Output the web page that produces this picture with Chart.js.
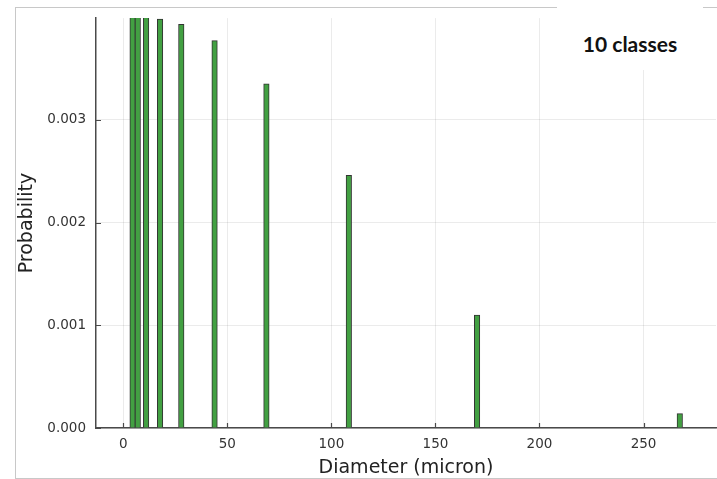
<!DOCTYPE html>
<html>
<head>
<meta charset="utf-8">
<script src="https://cdn.jsdelivr.net/npm/chart.js@4"></script>
<style>
  html, body { margin: 0; padding: 0; background: #ffffff; }
  #wrap { position: relative; width: 717px; height: 479px; overflow: hidden; background: #ffffff; }
  #frame { position: absolute; left: 15px; top: 7px; width: 800px; height: 470px; border: 1px solid #c8c8c8; }
  #chart { position: absolute; left: 0; top: 0; }
  #tag {
    position: absolute; left: 557px; top: 0; width: 146px; height: 70px; background: #ffffff;
    font-family: Lato, "Open Sans", sans-serif; font-weight: bold; font-size: 21px; color: #111;
    text-align: center; line-height: 22px; padding-top: 33px; box-sizing: border-box;
  }
</style>
</head>
<body>
<div id="wrap">
  <div id="frame"></div>
  <canvas id="chart" width="717" height="479"></canvas>
  <div id="tag">10 classes</div>
</div>
<script>
// Class centres (micron) and probability density of each class
const diameters = [4.5, 7.0, 11.0, 17.7, 27.9, 43.9, 68.8, 108.4, 170.0, 267.4];
const probabilities = [0.00402, 0.00403, 0.00402, 0.00398, 0.00393, 0.00377, 0.00335, 0.00246, 0.00110, 0.00014];

// Axis ticks
const xTicks = [0, 50, 100, 150, 200, 250];
const yTicks = [0, 0.001, 0.002, 0.003];

const axisColor = '#4a4a4a';
const tickFont = { family: 'DejaVu Sans', size: 13.5 };

// Short tick marks pointing into the plot area
const innerTicks = {
  id: 'innerTicks',
  afterDraw(chart) {
    const { ctx, chartArea, scales } = chart;
    ctx.save();
    ctx.strokeStyle = axisColor;
    ctx.lineWidth = 1.2;
    ctx.beginPath();
    xTicks.forEach(v => {
      const px = Math.round(scales.x.getPixelForValue(v)) + 0.5;
      ctx.moveTo(px, chartArea.bottom);
      ctx.lineTo(px, chartArea.bottom - 5);
    });
    yTicks.forEach(v => {
      const py = Math.round(scales.y.getPixelForValue(v)) + 0.5;
      ctx.moveTo(chartArea.left, py);
      ctx.lineTo(chartArea.left + 5, py);
    });
    ctx.stroke();
    ctx.restore();
  }
};

new Chart(document.getElementById('chart'), {
  type: 'bar',
  data: {
    datasets: [{
      data: diameters.map((d, i) => ({ x: d, y: probabilities[i] })),
      backgroundColor: '#42a042',
      borderColor: '#333333',
      borderWidth: 1,
      borderSkipped: 'start',
      barThickness: 5.5
    }]
  },
  options: {
    responsive: false,
    animation: false,
    layout: { padding: { left: 0, right: 1, top: 17, bottom: 0 } },
    plugins: { legend: { display: false }, tooltip: { enabled: false } },
    scales: {
      x: {
        type: 'linear',
        min: -13.07,
        max: 284.8,
        offset: false,
        afterFit(s) { s.height = 51; },
        afterBuildTicks(s) { s.ticks = xTicks.map(v => ({ value: v })); },
        grid: { offset: false, color: 'rgba(0,0,0,0.08)', lineWidth: 1, drawTicks: false },
        border: { display: true, color: axisColor, width: 1.5 },
        ticks: { color: '#333', font: tickFont, padding: 8, maxRotation: 0, callback: v => String(v) },
        title: {
          display: true, text: 'Diameter (micron)', color: '#222',
          font: { family: 'DejaVu Sans', size: 19 }, padding: { top: 2, bottom: 0 }
        }
      },
      y: {
        min: 0,
        max: 0.00399,
        afterFit(s) { s.width = 96; },
        afterBuildTicks(s) { s.ticks = yTicks.map(v => ({ value: v })); },
        grid: { color: 'rgba(0,0,0,0.08)', lineWidth: 1, drawTicks: false },
        border: { display: true, color: axisColor, width: 1.5 },
        ticks: { color: '#333', font: tickFont, padding: 10, callback: v => v.toFixed(3) },
        title: {
          display: true, text: 'Probability', color: '#222',
          font: { family: 'DejaVu Sans', size: 19 }, padding: { top: 16, bottom: 0 }
        }
      }
    }
  },
  plugins: [innerTicks]
});
</script>
</body>
</html>
